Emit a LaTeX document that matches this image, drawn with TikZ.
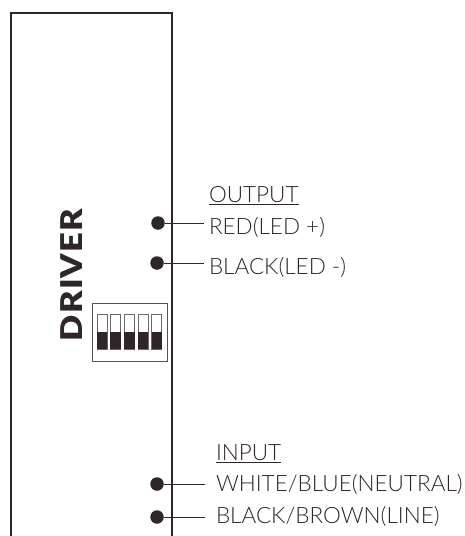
\documentclass[tikz,border=0pt]{standalone}
\usepackage{fontspec}
\setmainfont{Lato Light}
\newfontfamily\drvfont[FakeStretch=1.15,LetterSpace=4]{Lato Black}
\definecolor{ink}{HTML}{2E2627}
\tikzset{
  every node/.style={inner sep=0pt,outer sep=0pt},
  wall/.style={draw=ink,line width=1.5pt},
  pin/.style={circle,fill=ink,minimum size=13.5pt},
  wire/.style={draw=ink,line width=1pt},
  lbl/.style={anchor=base west,text=ink,font=\fontsize{22.5}{24}\selectfont},
  rule/.style={draw=ink,line width=0.7pt},
  dipbox/.style={draw=ink!80,line width=0.8pt,minimum width=75pt,minimum height=58pt,fill=white},
  slot/.style={draw=ink!70,line width=0.8pt,minimum width=10pt,minimum height=35pt,fill=white},
  lever/.style={fill=ink,minimum width=10.6pt,minimum height=17pt}
}
\begin{document}
\begin{tikzpicture}[x=1pt,y=-1pt]
\useasboundingbox (0,0) rectangle (465,536);
\draw[wall] (11,536) -- (11,13) -- (172,13) -- (172,536);
\node[rotate=90,text=ink,font=\drvfont\fontsize{30}{30}\selectfont,anchor=base] (drv) at (82,275) {DRIVER};
% DIP switch
\node[dipbox] (dip) at (129.5,332) {};
\foreach \i in {0,...,4}{
  \node[slot] (s\i) at ({102+13.7*\i},331.5) {};
  \node[lever] (l\i) at ({102+13.7*\i},340.5) {};
}
% pins
\node[pin] (p1) at (158,223) {};
\node[pin] (p2) at (157,263) {};
\node[pin] (p3) at (157,484) {};
\node[pin] (p4) at (157,517) {};
\coordinate (e1) at (204,223);
\coordinate (e2) at (204,263);
\coordinate (e3) at (205,484);
\coordinate (e4) at (205,517);
\draw[wire] (p1) -- (e1);
\draw[wire] (p2) -- (e2);
\draw[wire] (p3) -- (e3);
\draw[wire] (p4) -- (e4);
% labels
\node[lbl] (out) at (209,202.5) {OUTPUT};
\node[lbl] (red) at (209,234.5) {RED(LED +)};
\node[lbl] (blk) at (209,274.5) {BLACK(LED -)};
\node[lbl] (inp) at (216,460.5) {INPUT};
\node[lbl] (wht) at (216,491.5) {WHITE/BLUE(NEUTRAL)};
\node[lbl] (brn) at (216,523.5) {BLACK/BROWN(LINE)};
\draw[rule] ([yshift=-1.5pt]out.base west) -- ([yshift=-1.5pt]out.base east);
\draw[rule] ([yshift=-1.5pt]inp.base west) -- ([yshift=-1.5pt]inp.base east);
\end{tikzpicture}
\end{document}
